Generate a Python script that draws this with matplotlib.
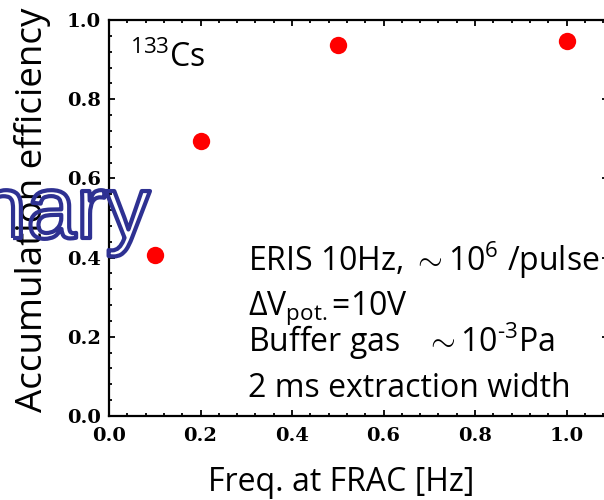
import matplotlib
matplotlib.use("Agg")
import matplotlib.pyplot as plt
import matplotlib.patheffects as pe
from matplotlib.ticker import AutoMinorLocator

# accumulation efficiency vs FRAC extraction frequency
freq_hz = [0.1, 0.2, 0.5, 1.0]
efficiency = [0.407, 0.694, 0.938, 0.946]

x_ticks = [0.0, 0.2, 0.4, 0.6, 0.8, 1.0]
y_ticks = [0.0, 0.2, 0.4, 0.6, 0.8, 1.0]

SANS = ["Open Sans", "Noto Sans CJK JP", "DejaVu Sans"]
TICKFONT = {"family": "DejaVu Serif", "weight": "bold", "size": 14}

plt.rcParams["mathtext.fontset"] = "custom"
plt.rcParams["mathtext.rm"] = "Open Sans"
plt.rcParams["mathtext.it"] = "Open Sans:italic"

W, H = 604, 500

fig = plt.figure(figsize=(6.04, 5.00), dpi=100)
ax = fig.add_axes([109 / W, 1 - 416 / H, (607.7 - 109) / W, (416 - 20) / H])

ax.plot(freq_hz, efficiency, "o", color="#ff0000", markersize=12.5,
        markeredgewidth=0, zorder=3)

ax.set_xlim(0, 1.09)
ax.set_ylim(0, 1.0)
ax.set_xticks(x_ticks)
ax.set_yticks(y_ticks)
ax.set_xticklabels([f"{v:.1f}" for v in x_ticks], fontdict=TICKFONT)
ax.set_yticklabels([f"{v:.1f}" for v in y_ticks], fontdict=TICKFONT)
ax.xaxis.set_minor_locator(AutoMinorLocator(5))
ax.yaxis.set_minor_locator(AutoMinorLocator(5))
ax.tick_params(which="both", direction="in", top=True, right=True, width=1.3)
ax.tick_params(which="major", length=4.5)
ax.tick_params(which="minor", length=2.2)
ax.tick_params(axis="x", which="major", pad=8)
ax.tick_params(axis="y", which="major", pad=6)
for sp in ax.spines.values():
    sp.set_linewidth(1.6)

# axis titles
fig.text(341 / W, 1 - 491 / H, "Freq. at FRAC [Hz]", family=SANS, size=23,
         ha="center", va="baseline")
fig.text(42 / W, 1 - 210 / H, "Accumulation efficiency", family=SANS,
         size=26.5, rotation=90, rotation_mode="anchor",
         ha="center", va="baseline")

# isotope tag
fig.text(130 / W, 1 - 66.7 / H, r"$^{133}$Cs", family=SANS, size=23,
         va="baseline", ha="left")

# run conditions
cond_lines = [
    (271, r"ERIS 10Hz, $\sim$10$^{6}$ /pulse"),
    (315, r"$\Delta$V$_{\mathrm{pot.}}$=10V"),
    (352, r"Buffer gas   $\sim$10$^{\text{-3}}$Pa"),
    (397, "2 ms extraction width"),
]
for ypix, txt in cond_lines:
    fig.text(248 / W, 1 - ypix / H, txt, family=SANS, size=23,
             va="baseline", ha="left")

# outlined watermark
fig.text(150 / W, 1 - 238 / H, "Preliminary", family="Liberation Sans",
         size=64, color="none", ha="right", va="baseline",
         path_effects=[pe.withStroke(linewidth=3, foreground="#2e3192")])

fig.savefig("out.png", dpi=100)
